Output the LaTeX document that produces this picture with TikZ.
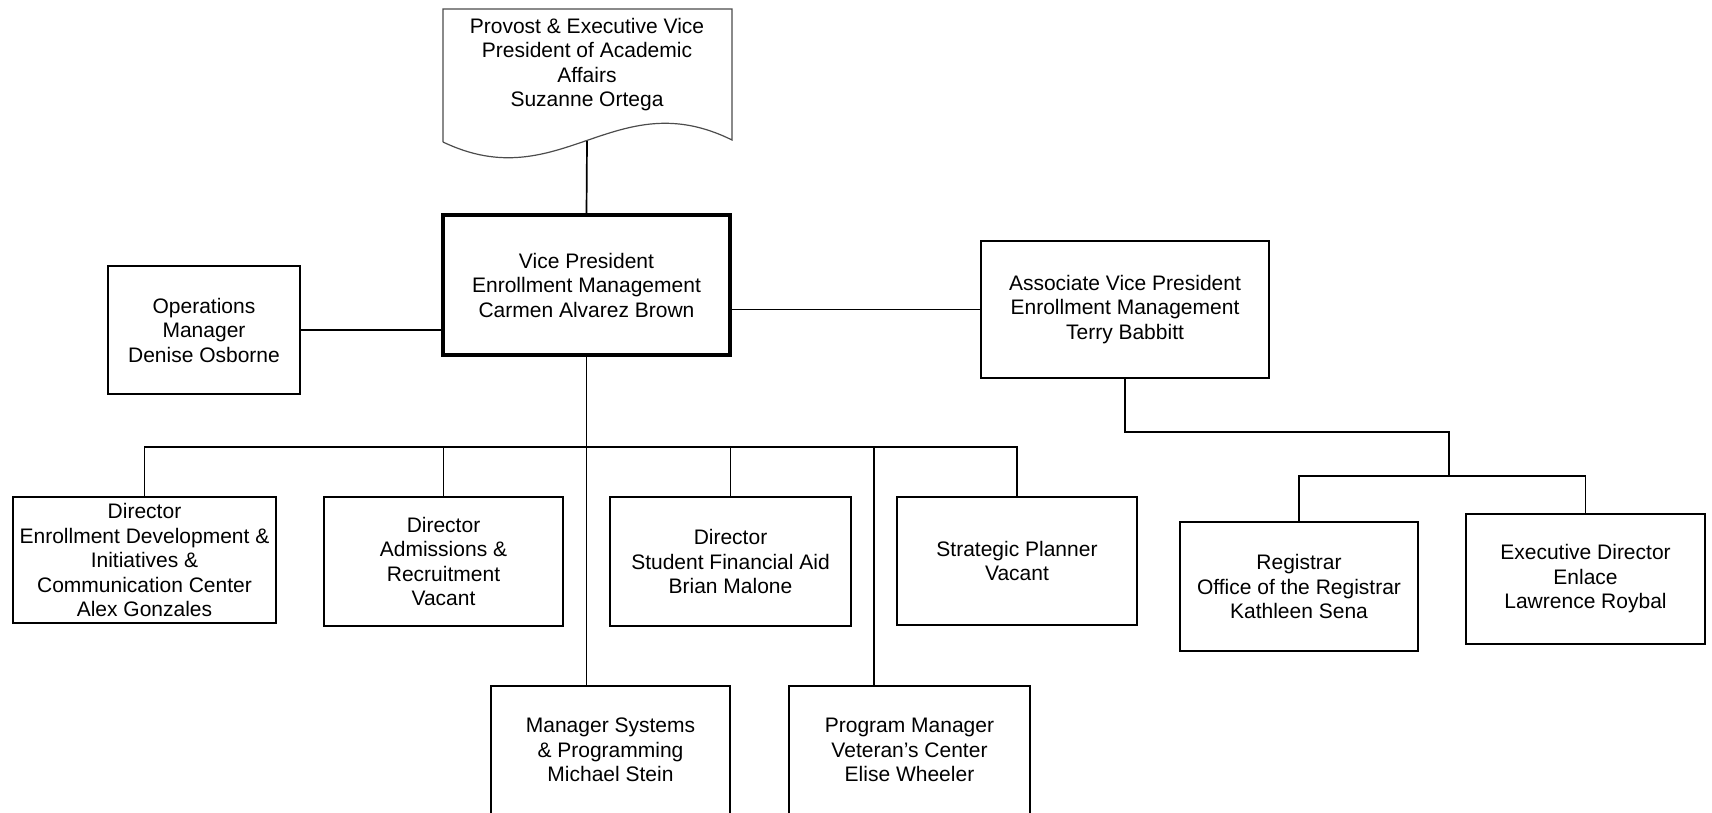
\documentclass[tikz,border=0pt]{standalone}
\usepackage{fontspec}
\setmainfont{Liberation Sans}
\begin{document}
\begin{tikzpicture}[x=1pt,y=-1pt,
  txt/.style={align=center, font=\fontsize{21}{24.5}\selectfont, inner sep=0pt},
  box/.style={txt, draw=black, line width=1.7pt, rectangle},
  vpbox/.style={box, line width=4pt},
  link/.style={draw=black, line width=1.7pt}]
\useasboundingbox (0,0) rectangle (1712,812);
% Provost document shape
\draw[line width=1.2pt, draw=black!70] (443,142) -- (443,9) -- (732,9) -- (732,140)
  .. controls (615,82) and (560,198) .. (443,142);
\node[txt] (prov) at (587,64.5) {Provost \& Executive Vice\\President of Academic\\Affairs\\Suzanne Ortega};
\coordinate (pw) at (587,141);
% Boxes
\node[vpbox, minimum width=287, minimum height=140] (vp) at (586.5,285) {Vice President\\Enrollment Management\\Carmen Alvarez Brown};
\node[box, minimum width=192, minimum height=128] (ops) at (204,330) {Operations\\Manager\\Denise Osborne};
\node[box, minimum width=288, minimum height=137] (avp) at (1125,309.5) {Associate Vice President\\Enrollment Management\\Terry Babbitt};
\node[box, minimum width=263, minimum height=126] (edi) at (144.5,560) {Director\\Enrollment Development \&\\Initiatives \&\\Communication Center\\Alex Gonzales};
\node[box, minimum width=239, minimum height=129] (adm) at (443.5,561.5) {Director\\Admissions \&\\Recruitment\\Vacant};
\node[box, minimum width=241, minimum height=129] (sfa) at (730.5,561.5) {Director\\Student Financial Aid\\Brian Malone};
\node[box, minimum width=240, minimum height=128] (sp) at (1017,561) {Strategic Planner\\Vacant};
\node[box, minimum width=239, minimum height=128] (msp) at (610.5,750) {Manager Systems\\\& Programming\\Michael Stein};
\node[box, minimum width=241, minimum height=128] (pm) at (909.5,750) {Program Manager\\Veteran’s Center\\Elise Wheeler};
\node[box, minimum width=238, minimum height=129] (reg) at (1299,586.5) {Registrar\\Office of the Registrar\\Kathleen Sena};
\node[box, minimum width=239, minimum height=130] (exe) at (1585.5,579) {Executive Director\\Enlace\\Lawrence Roybal};
% Connectors
\coordinate (bus) at (587,447);
\coordinate (pmtop) at (874,686);
\coordinate (k) at (1449,432);
\coordinate (b2) at (1449,476);
\draw[link] (pw) -- (vp.north);
\draw[link] (ops.east) -- (ops.east -| vp.west);
\draw[link] (vp.east |- avp.west) -- (avp.west);
\draw[link] (vp.south) -- (vp.south |- msp.north);
\draw[link] (edi.north) |- (bus) -| (sp.north);
\draw[link] (adm.north) -- (adm.north |- bus);
\draw[link] (sfa.north) -- (sfa.north |- bus);
\draw[link] (pmtop) -- (pmtop |- bus);
\draw[link] (avp.south) |- (k) -- (b2);
\draw[link] (reg.north) |- (b2) -| (exe.north);
\end{tikzpicture}
\end{document}
